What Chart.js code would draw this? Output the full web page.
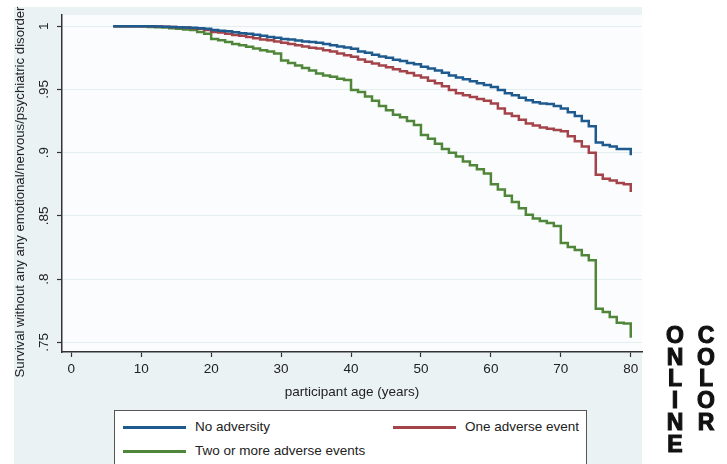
<!DOCTYPE html>
<html>
<head>
<meta charset="utf-8">
<script src="https://cdn.jsdelivr.net/npm/chart.js@4"></script>
<style>
  body { margin: 0; width: 727px; height: 464px; background: #fff; position: relative; overflow: hidden;
         font-family: "Liberation Sans", Arial, sans-serif; }
  #bg { position: absolute; left: 14px; top: 7px; width: 628px; height: 457px; background: #eaf2f3; }
  #chart { position: absolute; left: 0; top: 0; }
  #ytitle { position: absolute; left: -180px; top: 184px; width: 400px; height: 16px; line-height: 16px;
            text-align: center; font-size: 13.2px; color: #222; white-space: nowrap;
            transform: rotate(-90deg); transform-origin: 200px 8px; }
  #legend { position: absolute; left: 114px; top: 410px; width: 471px; height: 60px; background: #fff;
            border: 1px solid #555; font-size: 13.5px; color: #222; }
  .item { position: absolute; height: 16px; line-height: 16px; }
  .item span.ln { position: absolute; top: 7px; left: 0; width: 63px; height: 2.5px; }
  .item span.tx { position: absolute; left: 72px; white-space: nowrap; }
  .stamp { position: absolute; top: 325px; font-weight: 900; font-size: 23px; line-height: 21.7px; color: #111;
           width: 20px; text-align: center; -webkit-text-stroke: 1.1px #111; }
</style>
</head>
<body>
<div id="bg"></div>
<canvas id="chart" width="727" height="464"></canvas>
<div id="ytitle">Survival without any any emotional/nervous/psychiatric disorder</div>
<div id="legend"></div>
<div class="stamp" style="left:665px">O<br>N<br>L<br>I<br>N<br>E</div>
<div class="stamp" style="left:696px">C<br>O<br>L<br>O<br>R</div>
<script>
const ages = [6,7,8,9,10,11,12,13,14,15,16,17,18,19,20,21,22,23,24,25,26,27,28,29,30,
  31,32,33,34,35,36,37,38,39,40,41,42,43,44,45,46,47,48,49,50,51,52,53,54,55,
  56,57,58,59,60,61,62,63,64,65,66,67,68,69,70,71,72,73,74,75,76,77,78,79,80];

const noAdversity = [1,1,1,1,1,1,0.9998,0.9996,0.9994,0.9992,0.999,0.9988,0.9985,0.998,0.997,
  0.9965,0.996,0.9952,0.9945,0.994,0.9932,0.9925,0.9915,0.991,0.990,
  0.9895,0.9888,0.988,0.9875,0.987,0.986,0.985,0.984,0.9832,0.9822,
  0.980,0.979,0.9775,0.976,0.975,0.9735,0.9725,0.971,0.970,0.968,
  0.9665,0.965,0.9632,0.961,0.9595,0.958,0.9565,0.955,0.9535,0.952,
  0.9495,0.947,0.9455,0.9435,0.9415,0.940,0.939,0.9385,0.937,0.935,
  0.932,0.929,0.925,0.921,0.908,0.906,0.905,0.903,0.903,0.898];

const oneEvent = [1,1,1,1,1,1,0.9998,0.9996,0.9994,0.9992,0.999,0.9985,0.998,0.997,0.9955,
  0.995,0.994,0.993,0.9925,0.9916,0.9905,0.9895,0.989,0.988,0.987,
  0.986,0.985,0.984,0.983,0.9824,0.981,0.980,0.9785,0.977,0.9758,
  0.9738,0.972,0.9705,0.969,0.9675,0.966,0.9645,0.963,0.961,0.9595,
  0.957,0.955,0.9525,0.9495,0.947,0.9455,0.944,0.9425,0.941,0.939,
  0.935,0.931,0.929,0.926,0.923,0.9215,0.920,0.919,0.918,0.917,
  0.913,0.909,0.905,0.900,0.8825,0.8795,0.878,0.876,0.875,0.869];

const twoOrMore = [1,1,1,1,0.9998,0.9995,0.9993,0.999,0.9985,0.998,0.9975,0.997,0.9955,0.994,0.990,
  0.989,0.9875,0.986,0.985,0.9837,0.9825,0.981,0.980,0.9785,0.973,
  0.971,0.969,0.967,0.965,0.9627,0.961,0.960,0.9585,0.9575,0.9495,
  0.948,0.9445,0.941,0.937,0.9335,0.930,0.928,0.925,0.922,0.914,
  0.911,0.907,0.903,0.900,0.897,0.893,0.890,0.887,0.8835,0.875,
  0.871,0.866,0.861,0.856,0.851,0.848,0.846,0.8444,0.842,0.8286,
  0.8255,0.823,0.819,0.815,0.7766,0.774,0.770,0.7655,0.765,0.7537];

const seriesNames = ['No adversity', 'One adverse event', 'Two or more adverse events'];
const seriesColors = ['#1f5a8f', '#a4444a', '#50863a'];

const xTicks = [0,10,20,30,40,50,60,70,80];
const yTicks = [0.75,0.8,0.85,0.9,0.95,1];
const yTickLabels = ['.75','.8','.85','.9','.95','1'];

const toPoints = vals => ages.map((a, i) => ({ x: a, y: vals[i] }));
const seriesData = [noAdversity, oneEvent, twoOrMore];

const FONT = { family: '"Liberation Sans", Arial, sans-serif', size: 13.5 };

// plot region fill
const plotBg = {
  id: 'plotBg',
  beforeDraw(c) {
    const a = c.chartArea, ctx = c.ctx;
    ctx.save();
    ctx.fillStyle = '#fbfcfd';
    ctx.fillRect(a.left, a.top, a.right - a.left, a.bottom - a.top);
    ctx.restore();
  }
};

new Chart(document.getElementById('chart'), {
  type: 'line',
  data: {
    datasets: seriesData.map((vals, i) => ({
      label: seriesNames[i],
      data: toPoints(vals),
      borderColor: seriesColors[i],
      borderWidth: 2.5,
      pointRadius: 0,
      stepped: true,
      fill: false
    }))
  },
  options: {
    responsive: false,
    animation: false,
    layout: { padding: { left: 0, right: 85, top: 15, bottom: 0 } },
    plugins: { legend: { display: false }, tooltip: { enabled: false } },
    scales: {
      x: {
        type: 'linear',
        min: -1.33, max: 81.61,
        afterBuildTicks: s => { s.ticks = xTicks.map(v => ({ value: v })); },
        afterFit: s => { s.height = 112; },
        ticks: { font: FONT, color: '#222', padding: 4, maxRotation: 0, callback: v => String(v) },
        grid: { drawOnChartArea: false, tickLength: 5, tickColor: '#333', tickWidth: 1.2 },
        border: { color: '#333', width: 1.5 },
        title: { display: true, text: 'participant age (years)', font: FONT, color: '#222',
                 padding: { top: 0, bottom: 64 } }
      },
      y: {
        min: 0.7424, max: 1.0089,
        afterBuildTicks: s => { s.ticks = yTicks.map(v => ({ value: v })); },
        afterFit: s => { s.width = 62; },
        ticks: { font: FONT, color: '#222', padding: 3, minRotation: 90, maxRotation: 90,
                 crossAlign: 'center', callback: (v, i) => yTickLabels[i] },
        grid: { color: '#e3eef0', lineWidth: 1, tickLength: 5, tickColor: '#333', tickWidth: 1.2 },
        border: { color: '#333', width: 1.5 }
      }
    }
  },
  plugins: [plotBg]
});

// legend box
const legend = document.getElementById('legend');
const spots = [[8, 8], [278, 8], [8, 32]];
seriesNames.forEach((name, i) => {
  const d = document.createElement('div');
  d.className = 'item';
  d.style.left = spots[i][0] + 'px';
  d.style.top = spots[i][1] + 'px';
  d.innerHTML = '<span class="ln" style="background:' + seriesColors[i] + '"></span><span class="tx">' + name + '</span>';
  legend.appendChild(d);
});
</script>
</body>
</html>
